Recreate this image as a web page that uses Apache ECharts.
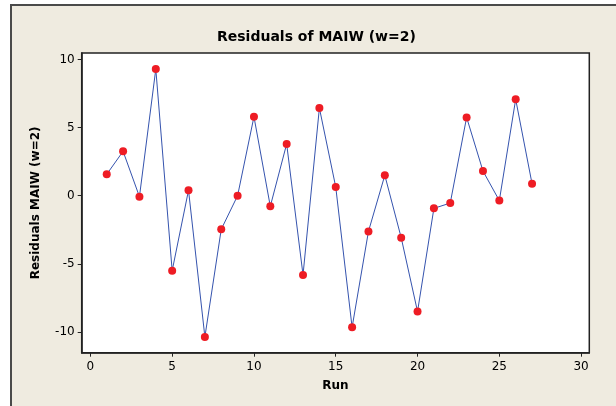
<!DOCTYPE html>
<html>
<head>
<meta charset="utf-8">
<script src="https://cdn.jsdelivr.net/npm/echarts@6/dist/echarts.min.js"></script>
<style>html,body{margin:0;padding:0;background:#fff}#c{width:616px;height:406px}</style>
</head>
<body>
<div id="c"></div>
<script>
const runs = [1,2,3,4,5,6,7,8,9,10,11,12,13,14,15,16,17,18,19,20,21,22,23,24,25,26,27];
const residuals = [1.57,3.26,-0.07,9.30,-5.51,0.40,-10.37,-2.47,0.0,5.80,-0.78,3.80,-5.82,6.44,0.64,-9.67,-2.62,1.50,-3.08,-8.51,-0.93,-0.54,5.75,1.81,-0.36,7.08,0.88];
const xTicks = [0,5,10,15,20,25,30];
const yTicks = [-10,-5,0,5,10];
const titleText = 'Residuals of MAIW (w=2)';
const xName = 'Run';
const yName = 'Residuals MAIW (w=2)';

const font = 'Tahoma, "DejaVu Sans", sans-serif';
const chart = echarts.init(document.getElementById('c'), null, {renderer:'canvas'});
chart.setOption({
  backgroundColor: '#ffffff',
  animation: false,
  graphic: [{
    type: 'rect', z: -100, silent: true,
    shape: {x: 11, y: 5, width: 700, height: 500},
    style: {fill: '#EFEBE0', stroke: '#4a4a4a', lineWidth: 2}
  }],
  title: {
    text: titleText, left: 212, top: 25,
    textStyle: {fontFamily: font, fontSize: 14, fontWeight: 'bold', color: '#000'}
  },
  grid: {
    left: 81.7, right: 26.7, top: 53, bottom: 53.3,
    show: true, backgroundColor: '#ffffff', borderColor: '#222', borderWidth: 1.5
  },
  xAxis: {
    type: 'value', min: -0.53, max: 30.5,
    name: xName, nameLocation: 'middle', nameGap: 27,
    nameTextStyle: {fontFamily: font, fontSize: 12, fontWeight: 'bold', color: '#000'},
    axisLine: {show: true, onZero: false, lineStyle: {color: '#222', width: 1.5}},
    axisTick: {show: true, length: 4, customValues: xTicks, lineStyle: {color: '#222'}},
    axisLabel: {customValues: xTicks, margin: 8, fontFamily: font, fontSize: 12, color: '#000'},
    splitLine: {show: false}
  },
  yAxis: {
    type: 'value', min: -11.53, max: 10.48,
    name: yName, nameLocation: 'middle', nameGap: 40,
    nameTextStyle: {fontFamily: font, fontSize: 12, fontWeight: 'bold', color: '#000'},
    axisLine: {show: true, onZero: false, lineStyle: {color: '#222', width: 1.5}},
    axisTick: {show: true, length: 4, customValues: yTicks, lineStyle: {color: '#222'}},
    axisLabel: {customValues: yTicks, margin: 7, fontFamily: font, fontSize: 12, color: '#000'},
    splitLine: {show: false}
  },
  series: [{
    type: 'line',
    data: runs.map((r, i) => [r, residuals[i]]),
    symbol: 'circle', symbolSize: 8,
    lineStyle: {color: '#3553AE', width: 1},
    itemStyle: {color: '#EE1C24'}
  }]
});
</script>
</body>
</html>
